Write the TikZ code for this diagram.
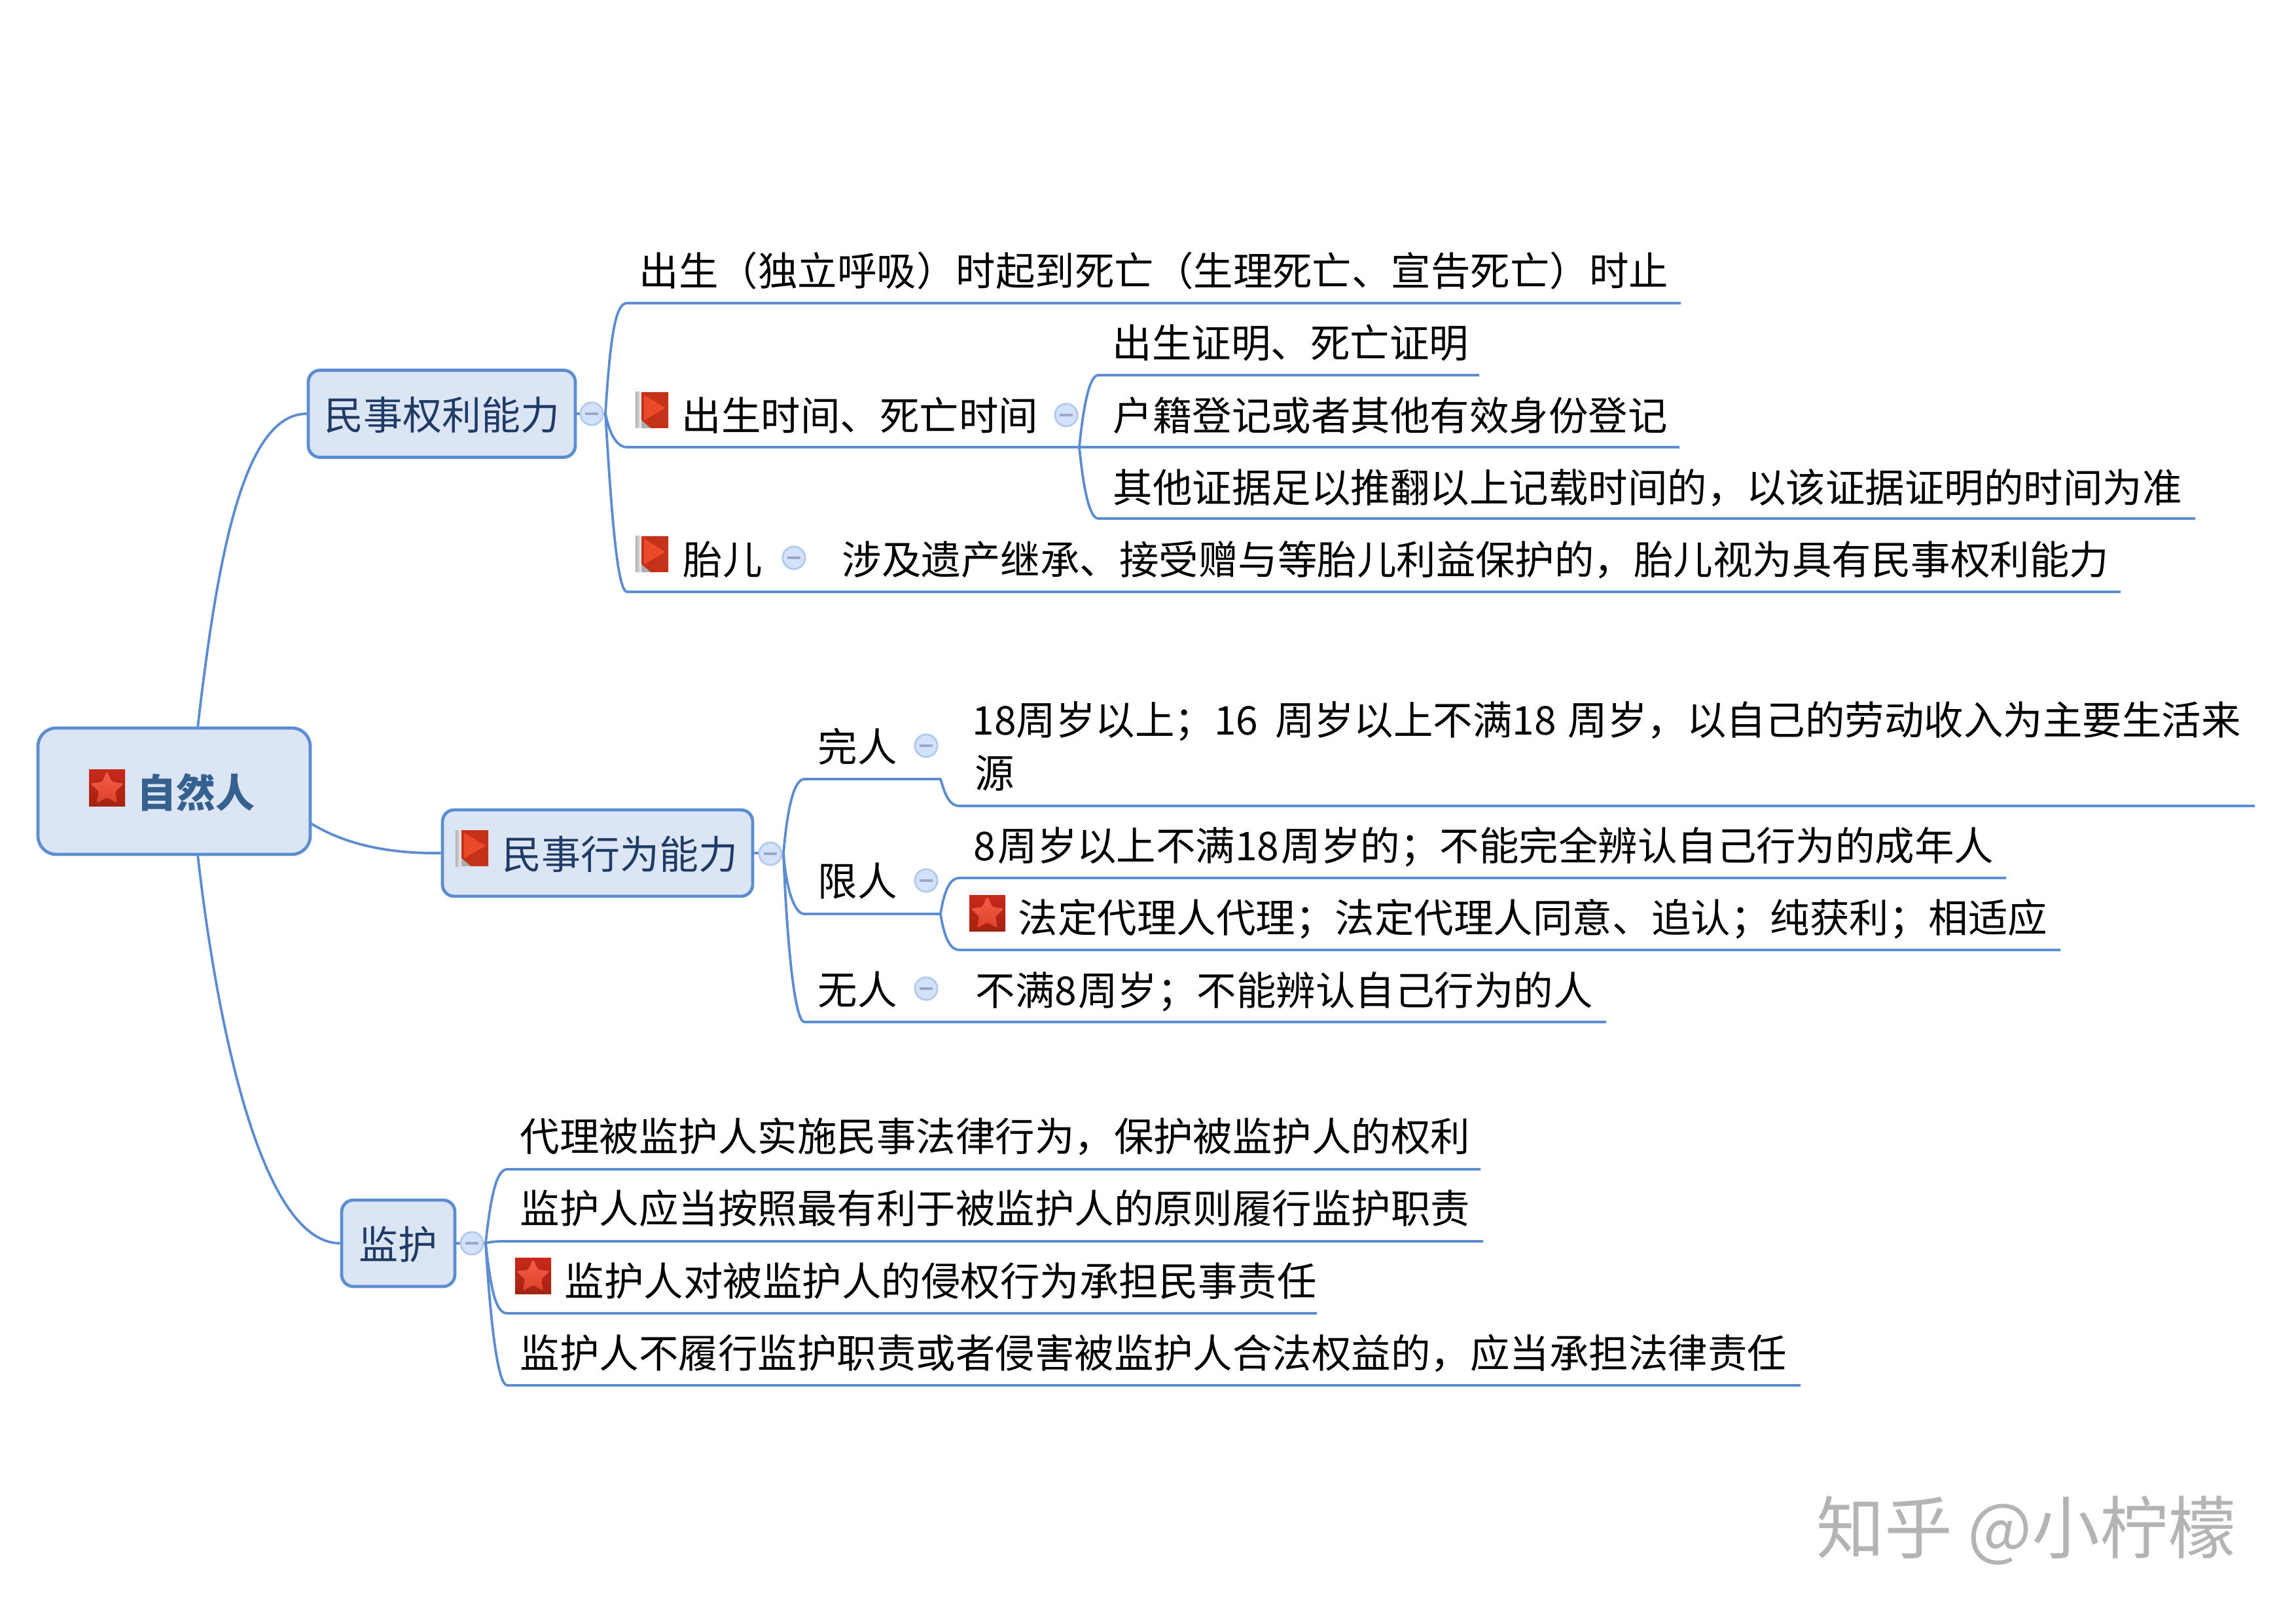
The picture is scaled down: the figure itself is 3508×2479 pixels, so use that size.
\documentclass[tikz,border=0pt]{standalone}
\usepackage{fontspec}
\setmainfont{Noto Sans CJK SC}
\definecolor{linkblue}{HTML}{5B8DD0}
\definecolor{boxfill}{HTML}{DCE5F3}
\definecolor{boxtext}{HTML}{1F3B66}
\definecolor{roottext}{HTML}{35608F}
\definecolor{colfill}{HTML}{D2E2FA}
\definecolor{coldraw}{HTML}{B5C9EC}
\definecolor{colbar}{HTML}{9AA8C6}
\definecolor{wmark}{HTML}{B4B4B4}
\definecolor{startop}{HTML}{C8291A}
\definecolor{starbot}{HTML}{A32312}
\definecolor{starhigh}{HTML}{F4604A}
\definecolor{starlow}{HTML}{DE4028}
\definecolor{flagred}{HTML}{C5321A}
\definecolor{flaglight}{HTML}{EA4A2A}
\definecolor{stripdark}{HTML}{B0B0B0}
\definecolor{striplight}{HTML}{F2F2F2}
\definecolor{flagfoot}{HTML}{A8AEB0}
\tikzset{
  x=0.25pt,y=-0.25pt,
  conn/.style={draw=linkblue,line width=0.95pt,line join=round},
  boxbase/.style={draw=linkblue,fill=boxfill,line width=1.2pt,rounded corners=4.5pt,inner sep=0pt,text=boxtext,
    font=\fontsize{15}{18}\selectfont,text height=13.5pt,text depth=1.1pt,align=center},
  rootbox/.style={boxbase,rounded corners=7pt,text=roottext,font=\fontsize{15}{18}\selectfont\bfseries,minimum width=104pt,minimum height=48.25pt},
  leaf/.style={anchor=west,inner sep=0pt,text=black,font=\fontsize{15.12}{18}\selectfont,text height=13pt,text depth=1.6pt},
  collapse/.style={circle,draw=coldraw,fill=colfill,line width=0.7pt,minimum size=8.6pt,inner sep=0pt,
    path picture={\draw[colbar,line width=1pt] ([xshift=-2.6pt]path picture bounding box.center) -- ([xshift=2.6pt]path picture bounding box.center);}},
  staricon/.pic={
    \shade[top color=startop,bottom color=starbot] (0,0) rectangle (55,55);
    \shade[top color=starhigh,bottom color=starlow,rounded corners=0.8pt] (27.5,2) -- (35.1,18.5) -- (53.2,20.7) -- (39.9,33) -- (43.4,50.8) -- (27.5,42) -- (11.6,50.8) -- (15.1,33) -- (1.8,20.7) -- (19.9,18.5) -- cycle;
  },
  flagicon/.pic={
    \shade[left color=stripdark,right color=striplight] (0,0) rectangle (9,55);
    \fill[flagred] (9,0) -- (50,0) -- (50,55) -- (23,55) -- (9,43) -- cycle;
    \fill[flaglight] (13,4) -- (46,24) -- (13,43) -- cycle;
    \fill[flagfoot] (9,43) -- (23,55) -- (9,55) -- cycle;
  }
}
\begin{document}
\begin{tikzpicture}
\useasboundingbox (0,0) rectangle (3508,2479);
% boxes
\node[rootbox] (root) at (266,1208.5) {\hspace{16.5pt}自然人};
\node[boxbase,minimum width=102pt,minimum height=33.25pt] (b1) at (675,632) {民事权利能力};
\node[boxbase,minimum width=118.5pt,minimum height=33pt] (b2) at (913,1303) {\hspace{17pt}民事行为能力};
\node[boxbase,minimum width=43.25pt,minimum height=33pt] (b3) at (608.5,1899) {监护};
% junction points
\coordinate (r1) at (302,1112);
\coordinate (r2) at (474,1257);
\coordinate (r3) at (302,1305);
\coordinate (o1) at (925,632);
\coordinate (a1) at (958,463); \coordinate (a1e) at (2568,463);
\coordinate (a2) at (958,683); \coordinate (a2m) at (1649,683);
\coordinate (a3) at (958,904); \coordinate (a3e) at (3240,904);
\coordinate (p1) at (1678,573); \coordinate (p1e) at (2260,573);
\coordinate (p2e) at (2566,683);
\coordinate (p3) at (1678,792); \coordinate (p3e) at (3354,792);
\coordinate (o2) at (1197,1304);
\coordinate (c1) at (1229,1190); \coordinate (c1m) at (1437,1190);
\coordinate (c1k) at (1466,1231); \coordinate (c1e) at (3445,1231);
\coordinate (c2) at (1229,1396); \coordinate (c2m) at (1437,1396);
\coordinate (q1) at (1466,1341); \coordinate (q1e) at (3065,1341);
\coordinate (q2) at (1466,1451); \coordinate (q2e) at (3148,1451);
\coordinate (c3) at (1229,1561); \coordinate (c3e) at (2454,1561);
\coordinate (o3) at (742,1899);
\coordinate (d1) at (775,1786); \coordinate (d1e) at (2262,1786);
\coordinate (d2) at (775,1896); \coordinate (d2e) at (2266,1896);
\coordinate (d3) at (775,2006); \coordinate (d3e) at (2012,2006);
\coordinate (d4) at (775,2116); \coordinate (d4e) at (2751,2116);
% connectors
\draw[conn] (r1) .. controls (332,850) and (372,632) .. (b1.west);
\draw[conn] (r2) .. controls (530,1292) and (600,1304) .. (b2.west);
\draw[conn] (r3) .. controls (332,1570) and (400,1899) .. (b3.west);
\draw[conn] (b1.east) -- (o1);
\draw[conn] (o1) .. controls +(8,-130) and +(-16,0) .. (a1) -- (a1e);
\draw[conn] (o1) .. controls +(6,30) and +(-16,0) .. (a2) -- (a2m);
\draw[conn] (o1) .. controls +(8,130) and +(-16,0) .. (a3) -- (a3e);
\draw[conn] (a2m) .. controls +(6,-60) and +(-14,0) .. (p1) -- (p1e);
\draw[conn] (a2m) -- (p2e);
\draw[conn] (a2m) .. controls +(6,60) and +(-14,0) .. (p3) -- (p3e);
\draw[conn] (b2.east) -- (o2);
\draw[conn] (o2) .. controls +(6,-70) and +(-16,0) .. (c1) -- (c1m) .. controls +(8,28) and +(-14,0) .. (c1k) -- (c1e);
\draw[conn] (o2) .. controls +(5,60) and +(-14,0) .. (c2) -- (c2m);
\draw[conn] (c2m) .. controls +(6,-38) and +(-14,0) .. (q1) -- (q1e);
\draw[conn] (c2m) .. controls +(6,38) and +(-14,0) .. (q2) -- (q2e);
\draw[conn] (o2) .. controls +(6,150) and +(-14,0) .. (c3) -- (c3e);
\draw[conn] (b3.east) -- (o3);
\draw[conn] (o3) .. controls +(8,-75) and +(-16,0) .. (d1) -- (d1e);
\draw[conn] (o3) .. controls +(10,-3) and +(-14,0) .. (d2) -- (d2e);
\draw[conn] (o3) .. controls +(8,70) and +(-18,0) .. (d3) -- (d3e);
\draw[conn] (o3) .. controls +(8,130) and +(-14,0) .. (d4) -- (d4e);
% collapse buttons
\node[collapse] (t1) at (904,632) {};
\node[collapse] (t2) at (1629,634) {};
\node[collapse] (t3) at (1213,852) {};
\node[collapse] (t4) at (1177,1304) {};
\node[collapse] (t5) at (1415,1139) {};
\node[collapse] (t6) at (1415,1345) {};
\node[collapse] (t7) at (1415,1510) {};
\node[collapse] (t8) at (721,1899) {};
% icons
\pic at (136,1176) {staricon};
\pic at (971,599) {flagicon};
\pic at (971,819) {flagicon};
\pic at (696,1268) {flagicon};
\pic at (1481,1367) {staricon};
\pic at (787,1921) {staricon};
% leaves
\node[leaf] (n1) at (976,414) {出生（独立呼吸）时起到死亡（生理死亡、宣告死亡）时止};
\node[leaf] (n2) at (1041,635) {出生时间、死亡时间};
\node[leaf] (n3) at (1699,524) {出生证明、死亡证明};
\node[leaf] (n4) at (1700,635) {户籍登记或者其他有效身份登记};
\node[leaf] (n5) at (1700,745) {其他证据足以推翻以上记载时间的，以该证据证明的时间为准};
\node[leaf] (n6) at (1043,855) {胎儿};
\node[leaf] (n7) at (1286,855) {涉及遗产继承、接受赠与等胎儿利益保护的，胎儿视为具有民事权利能力};
\node[leaf] (n8) at (1249,1141) {完人};
\node[leaf] (n9) at (1249,1346) {限人};
\node[leaf] (n10) at (1249,1512) {无人};
\node[leaf] (n11) at (1485,1100) {18周岁以上；16 \hspace{3pt}周岁以上不满18 \hspace{1pt}周岁，以自己的劳动收入为主要生活来};
\node[leaf] (n12) at (1489,1181) {源};
\node[leaf] (n13) at (1487,1292) {8\hspace{0.8pt}周岁以上不满18\hspace{0.8pt}周岁的；不能完全辨认自己行为的成年人};
\node[leaf] (n14) at (1555,1402) {法定代理人代理；法定代理人同意、追认；纯获利；相适应};
\node[leaf] (n15) at (1490,1513) {不满8\hspace{0.5pt}周岁；不能辨认自己行为的人};
\node[leaf] (n16) at (794,1736) {代理被监护人实施民事法律行为，保护被监护人的权利};
\node[leaf] (n17) at (794,1846) {监护人应当按照最有利于被监护人的原则履行监护职责};
\node[leaf] (n18) at (862,1957) {监护人对被监护人的侵权行为承担民事责任};
\node[leaf] (n19) at (794,2067) {监护人不履行监护职责或者侵害被监护人合法权益的，应当承担法律责任};
% watermark
\node[inner sep=0pt,text=wmark,font=\fontsize{26}{30}\selectfont] (wm) at (3096,2338) {知乎 @小柠檬};
\end{tikzpicture}
\end{document}
